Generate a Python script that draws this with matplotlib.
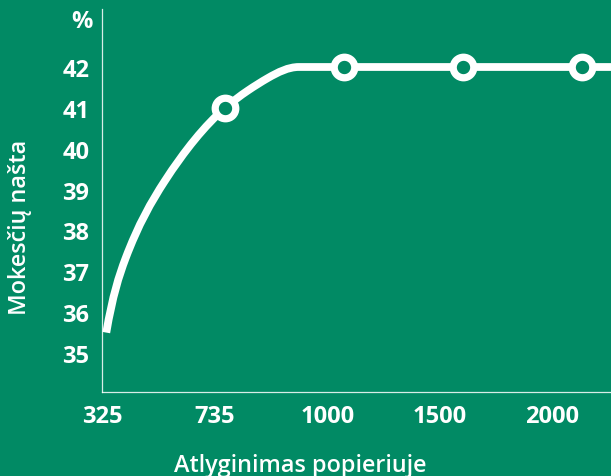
import os
import numpy as np
import matplotlib
matplotlib.use("Agg")
import matplotlib.pyplot as plt
from matplotlib.path import Path
from matplotlib.patches import PathPatch
from matplotlib import font_manager as fm

# ---- data ----
categories = ["325", "735", "1000", "1500", "2000"]
marker_cats = ["735", "1000", "1500", "2000"]
marker_values = [41, 42, 42, 42]
# rising part of the curve (category units, %)
curve_pos = [0.0, 0.16, 0.49, 1.0, 1.19, 1.36, 1.62]
curve_val = [35.5, 37.3, 39.2, 41.0, 41.42, 41.73, 42.0]
start_slope = 17.0
plateau_end = 4.3
y_ticks = [35, 36, 37, 38, 39, 40, 41, 42]
x_label = "Atlyginimas popieriuje"
y_label = "Mokesčių našta"
unit_label = "%"

GREEN = "#018a64"
WHITE = "#ffffff"


def face(files):
    by_base = {os.path.basename(f.fname): f.fname for f in fm.fontManager.ttflist}
    for fn in files:
        if fn in by_base:
            return by_base[fn]
    return None


bold_path = face(["OpenSans-Bold.ttf", "Roboto-Bold.ttf", "DejaVuSans-Bold.ttf"])
semi_path = face(["OpenSans-Semibold.ttf", "OpenSans-SemiBold.ttf", "Roboto-Medium.ttf",
                  "DejaVuSans.ttf"])


def fp(path, size, fallback_weight):
    if path:
        return fm.FontProperties(fname=path, size=size)
    return fm.FontProperties(family="DejaVu Sans", weight=fallback_weight, size=size)


W, H = 611, 477
fig = plt.figure(figsize=(W / 100, H / 100), dpi=100, facecolor=GREEN)
ax = fig.add_axes([102.5 / W, (H - 393) / H, (W - 102.5) / W, (393 - 10) / H])
ax.set_facecolor(GREEN)

px_per_cat = 119.7
ax.set_xlim(0, (W - 102.5) / px_per_cat)
px_per_unit = 40.86
ax.set_ylim(42 - (393 - 68) / px_per_unit, 42 + (68 - 10) / px_per_unit)


def clamped_spline_slopes(x, y, s0, s1):
    x = np.asarray(x, float)
    y = np.asarray(y, float)
    n = len(x)
    h = np.diff(x)
    A = np.zeros((n, n))
    b = np.zeros(n)
    A[0, 0] = 1
    b[0] = s0
    for k in range(1, n - 1):
        A[k, k - 1] = h[k]
        A[k, k] = 2 * (h[k - 1] + h[k])
        A[k, k + 1] = h[k - 1]
        b[k] = 3 * (h[k] * (y[k] - y[k - 1]) / h[k - 1] + h[k - 1] * (y[k + 1] - y[k]) / h[k])
    A[-1, -1] = 1
    b[-1] = s1
    return np.linalg.solve(A, b)


xs = np.asarray(curve_pos, float)
ys = np.asarray(curve_val, float)
ms = clamped_spline_slopes(xs, ys, start_slope, 0.0)
verts = [(xs[0], ys[0])]
codes = [Path.MOVETO]
for i in range(len(xs) - 1):
    hseg = xs[i + 1] - xs[i]
    verts += [(xs[i] + hseg / 3, ys[i] + ms[i] * hseg / 3),
              (xs[i + 1] - hseg / 3, ys[i + 1] - ms[i + 1] * hseg / 3),
              (xs[i + 1], ys[i + 1])]
    codes += [Path.CURVE4] * 3
verts.append((plateau_end, ys[-1]))
codes.append(Path.LINETO)
patch = PathPatch(Path(verts, codes), fill=False, edgecolor=WHITE, lw=5.6,
                  capstyle="butt", joinstyle="round", zorder=3)
ax.add_patch(patch)

mx = [categories.index(c) for c in marker_cats]
ax.plot(mx, marker_values, linestyle="none", marker="o", markersize=14.8,
        markerfacecolor=GREEN, markeredgecolor=WHITE, markeredgewidth=5.2,
        zorder=4, clip_on=False)

# axes styling
for s in ["top", "right"]:
    ax.spines[s].set_visible(False)
for s in ["left", "bottom"]:
    ax.spines[s].set_color((1, 1, 1, 0.85))
    ax.spines[s].set_linewidth(0.9)

tick_fp = fp(bold_path, 17, "bold")
ax.set_yticks(y_ticks)
ax.set_yticklabels([str(v) for v in y_ticks], fontproperties=tick_fp)
label_pos = [i * 0.947 - 0.032 for i in range(len(categories))]
ax.set_xticks(label_pos)
ax.set_xticklabels(categories, fontproperties=tick_fp)
ax.tick_params(axis="both", length=0, colors=WHITE)
ax.tick_params(axis="y", pad=9.5)
ax.tick_params(axis="x", pad=8.5)

ax.text(-13.5 / px_per_cat, 43.13, unit_label, color=WHITE,
        fontproperties=tick_fp, ha="right", va="center", clip_on=False)

lab_fp = fp(semi_path, 16.8, "semibold")
fig.text(300 / W, (H - 466) / H, x_label, color=WHITE, fontproperties=lab_fp,
         ha="center", va="center")
fig.text(20 / W, (H - 227) / H, y_label, color=WHITE, fontproperties=lab_fp,
         ha="center", va="center", rotation=90)

fig.savefig("out.png", dpi=100, facecolor=GREEN)
